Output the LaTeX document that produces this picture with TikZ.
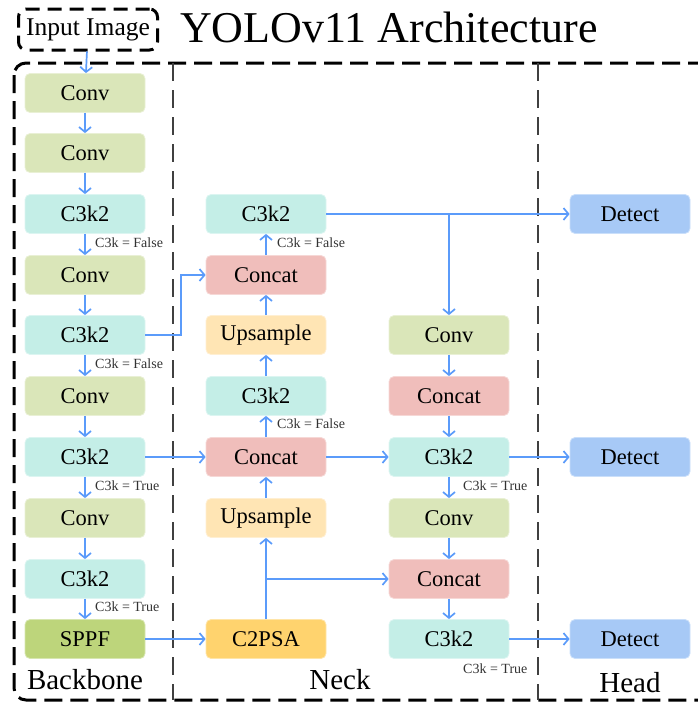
\documentclass[tikz,border=0pt]{standalone}
\usepackage{fontspec}
\setmainfont{Liberation Serif}
\usetikzlibrary{arrows.meta}
\definecolor{convc}{HTML}{DAE6B9}
\definecolor{c3kc}{HTML}{C4EEE7}
\definecolor{catc}{HTML}{F0BEBB}
\definecolor{upc}{HTML}{FFE5B4}
\definecolor{sppfc}{HTML}{BDD57B}
\definecolor{psac}{HTML}{FFD36E}
\definecolor{detc}{HTML}{A7C9F6}
\definecolor{flow}{HTML}{5B9BFA}
\begin{document}
\begin{tikzpicture}[x=1pt,y=-1pt,
  blk/.style={rounded corners=5pt, minimum width=120pt, minimum height=39pt,
    inner sep=0pt, line width=0.8pt, font=\fontsize{22.5}{24}\selectfont},
  convb/.style={blk, fill=convc, draw=convc!60!white},
  c3kb/.style={blk, fill=c3kc, draw=c3kc!60!white},
  catb/.style={blk, fill=catc, draw=catc!60!white},
  upb/.style={blk, fill=upc, draw=upc!60!white},
  sppfb/.style={blk, fill=sppfc, draw=sppfc!60!white},
  psab/.style={blk, fill=psac, draw=psac!60!white},
  detb/.style={blk, fill=detc, draw=detc!60!white},
  link/.style={draw=flow, line width=1.7pt, -{Straight Barb[length=5pt,width=12pt,line width=1.7pt]}},
  note/.style={font=\fontsize{14}{15}\selectfont, text=black!80, anchor=west, inner sep=0pt},
  part/.style={font=\fontsize{29}{31}\selectfont, inner sep=0pt},
  divider/.style={draw=black!75, line width=1.2pt, dash pattern=on 18pt off 9pt}
]
\useasboundingbox (0,0) rectangle (697,704);

% outer frame and column dividers
\draw[line width=3pt, dash pattern=on 18pt off 8pt, rounded corners=12pt] (14,63) rectangle (712,700);
\draw[divider] (173,63) -- (173,700);
\draw[divider] (538,63) -- (538,700);

% title and input
\node[draw, line width=3pt, dash pattern=on 14pt off 8pt, rounded corners=8pt,
  minimum width=139pt, minimum height=41pt, inner sep=0pt,
  font=\fontsize{25.5}{27}\selectfont] (inp) at (88,29.5) {Input Image};
\node[anchor=base west, inner sep=0pt, font=\fontsize{44}{48}\selectfont] (title) at (180,42) {YOLOv11 Architecture};

% backbone
\node[convb] (b1) at (85,93) {Conv};
\node[convb] (b2) at (85,153) {Conv};
\node[c3kb] (b3) at (85,214) {C3k2};
\node[convb] (b4) at (85,275) {Conv};
\node[c3kb] (b5) at (85,335) {C3k2};
\node[convb] (b6) at (85,396) {Conv};
\node[c3kb] (b7) at (85,457) {C3k2};
\node[convb] (b8) at (85,518) {Conv};
\node[c3kb] (b9) at (85,579) {C3k2};
\node[sppfb] (b10) at (85,639) {SPPF};

% neck, upward path
\node[c3kb] (n1) at (266,214) {C3k2};
\node[catb] (n2) at (266,275) {Concat};
\node[upb] (n3) at (266,335) {Upsample};
\node[c3kb] (n4) at (266,396) {C3k2};
\node[catb] (n5) at (266,457) {Concat};
\node[upb] (n6) at (266,518) {Upsample};
\node[psab] (n7) at (266,639) {C2PSA};

% neck, downward path
\node[convb] (m1) at (449,335) {Conv};
\node[catb] (m2) at (449,396) {Concat};
\node[c3kb] (m3) at (449,457) {C3k2};
\node[convb] (m4) at (449,518) {Conv};
\node[catb] (m5) at (449,579) {Concat};
\node[c3kb] (m6) at (449,639) {C3k2};

% head
\node[detb] (h1) at (630,214) {Detect};
\node[detb] (h2) at (630,457) {Detect};
\node[detb] (h3) at (630,639) {Detect};

% section names
\node[part] (lb) at (85,680) {Backbone};
\node[part] (ln) at (340,680) {Neck};
\node[part] (lh) at (630,683) {Head};

% backbone flow
\draw[link] (inp) -- (b1);
\draw[link] (b1) -- (b2);
\draw[link] (b2) -- (b3);
\draw[link] (b3) -- (b4);
\draw[link] (b4) -- (b5);
\draw[link] (b5) -- (b6);
\draw[link] (b6) -- (b7);
\draw[link] (b7) -- (b8);
\draw[link] (b8) -- (b9);
\draw[link] (b9) -- (b10);

% backbone to neck
\coordinate (elbow) at (181,335);
\draw[link] (b5.east) -- (elbow) |- (n2.west);
\draw[link] (b7) -- (n5);
\draw[link] (b10) -- (n7);

% neck upward
\draw[link] (n7) -- (n6);
\draw[link] (n6) -- (n5);
\draw[link] (n5) -- (n4);
\draw[link] (n4) -- (n3);
\draw[link] (n3) -- (n2);
\draw[link] (n2) -- (n1);
\coordinate (tap) at (n7.north |- m5.west);
\draw[link] (tap) -- (m5.west);

% neck downward
\draw[link] (n1) -- (h1);
\draw[link] (n1.east -| m1.north) -- (m1.north);
\draw[link] (m1) -- (m2);
\draw[link] (m2) -- (m3);
\draw[link] (n5) -- (m3);
\draw[link] (m3) -- (m4);
\draw[link] (m4) -- (m5);
\draw[link] (m5) -- (m6);
\draw[link] (m3) -- (h2);
\draw[link] (m6) -- (h3);

% block options
\node[note] at (95,243) {C3k = False};
\node[note] at (95,364) {C3k = False};
\node[note] at (95,486) {C3k = True};
\node[note] at (95,607) {C3k = True};
\node[note] at (277,243) {C3k = False};
\node[note] at (277,424) {C3k = False};
\node[note] at (463,486) {C3k = True};
\node[note] at (463,669) {C3k = True};
\end{tikzpicture}
\end{document}
